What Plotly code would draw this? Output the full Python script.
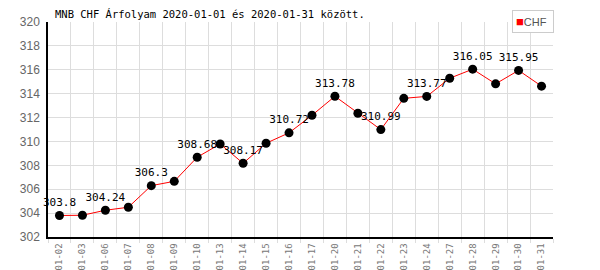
import plotly.graph_objects as go

dates = ["01-02", "01-03", "01-06", "01-07", "01-08", "01-09", "01-10", "01-13",
         "01-14", "01-15", "01-16", "01-17", "01-20", "01-21", "01-22", "01-23",
         "01-24", "01-27", "01-28", "01-29", "01-30", "01-31"]
chf = [303.80, 303.82, 304.24, 304.49, 306.30, 306.66, 308.68, 309.79,
       308.17, 309.85, 310.72, 312.19, 313.78, 312.36, 310.99, 313.61,
       313.77, 315.29, 316.05, 314.82, 315.95, 314.63]
y_ticks = [302, 304, 306, 308, 310, 312, 314, 316, 318, 320]

idx = list(range(len(dates)))
labels = [f"{v:g}" if i % 2 == 0 else "" for i, v in enumerate(chf)]

mono = "DejaVu Sans Mono"
L, R, T, B = 48, 47, 22, 33
PW, PH = 600 - L - R, 270 - T - B

fig = go.Figure()
fig.add_trace(go.Scatter(
    x=idx, y=chf, mode="lines+markers+text", name="CHF",
    line=dict(color="#ff0000", width=1),
    marker=dict(color="#000000", size=9),
    text=labels, textposition="top center",
    textfont=dict(family=mono, size=11, color="#000000"),
    showlegend=False, cliponaxis=False,
))

fig.update_layout(
    width=600, height=270,
    margin=dict(l=L, r=R, t=T, b=B),
    plot_bgcolor="white", paper_bgcolor="white",
    showlegend=False,
    annotations=[
        dict(
            text="MNB CHF Árfolyam 2020-01-01 és 2020-01-31 között.",
            xref="paper", yref="paper", x=(53 - L) / PW, y=(PH + T - 14) / PH,
            xanchor="left", yanchor="middle", showarrow=False,
            font=dict(family=mono, size=10.5, color="#000000"),
        ),
        dict(
            text="<span style='color:#ff0000;font-size:13px'>■</span>CHF",
            xref="paper", yref="paper", x=(512 - L) / PW, y=(PH + T - 10) / PH,
            xanchor="left", yanchor="top", showarrow=False,
            font=dict(family="Liberation Sans", size=11, color="#555555"),
            bordercolor="#cccccc", borderwidth=1, borderpad=3, bgcolor="white",
            width=34, align="left",
        ),
    ],
)

fig.update_xaxes(
    range=[-0.5, len(dates) - 0.5], automargin=False,
    tickmode="array", tickvals=idx, ticktext=dates, tickangle=-90,
    tickfont=dict(family=mono, size=9, color="#777777"),
    showgrid=False, ticks="", ticklabelstandoff=1,
    showline=True, linecolor="#000000", linewidth=1.5,
    zeroline=False,
    minor=dict(tick0=0.5, dtick=1, showgrid=True, gridcolor="#dddddd",
               gridwidth=1, ticks="outside", ticklen=4, tickcolor="#dddddd"),
)
fig.update_yaxes(
    range=[302, 320], automargin=False, tickmode="array", tickvals=y_ticks,
    tickfont=dict(family="Liberation Sans", size=12, color="#666666"),
    showgrid=True, gridcolor="#dddddd", gridwidth=1,
    showline=True, linecolor="#000000", linewidth=1.5,
    zeroline=False, ticks="", ticklabelstandoff=4,
)

fig.write_html("out.html")
